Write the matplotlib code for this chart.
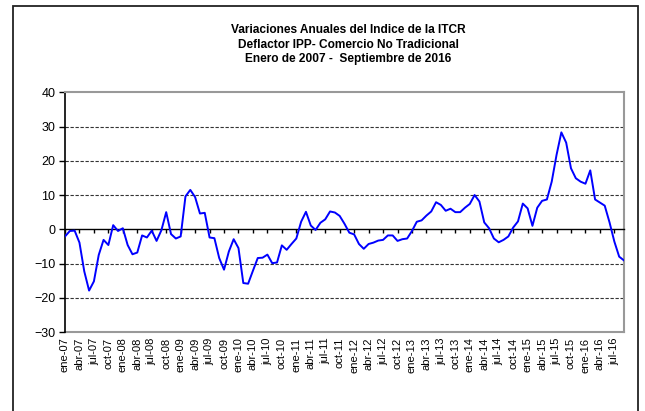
import matplotlib
matplotlib.use('Agg')
import matplotlib.pyplot as plt
from matplotlib.patches import Rectangle

plt.rcParams['font.family'] = ['Liberation Sans', 'DejaVu Sans']

# Monthly categories Jan 2007 - Sep 2016
month_abbr = ['ene', 'feb', 'mar', 'abr', 'may', 'jun',
              'jul', 'ago', 'sep', 'oct', 'nov', 'dic']
years = list(range(7, 17))
months = [f"{m}-{y:02d}" for y in years for m in month_abbr][:117]

# Annual variation (%)
values = [
    -2.1, -0.5, -0.4, -3.9, -12.3, -17.9, -15.2, -7.5, -3.1, -4.6, 1.2, -0.5,
    0.3, -4.6, -7.3, -6.8, -1.8, -2.4, -0.4, -3.4, -0.3, 5.0, -1.4, -2.7,
    -2.1, 9.6, 11.5, 9.4, 4.6, 4.8, -2.4, -2.6, -8.4, -11.8, -6.5, -2.9,
    -5.5, -15.7, -15.9, -12.1, -8.4, -8.3, -7.4, -9.9, -9.7, -4.7, -6.0, -4.3,
    -2.7, 2.2, 5.1, 1.1, -0.2, 1.9, 2.9, 5.2, 4.9, 3.9, 1.6, -1.0,
    -1.5, -4.3, -5.7, -4.3, -3.9, -3.3, -3.1, -1.8, -1.8, -3.4, -2.9, -2.7,
    -0.5, 2.2, 2.6, 4.0, 5.2, 7.9, 7.1, 5.4, 6.0, 5.0, 5.0, 6.3,
    7.4, 10.0, 8.1, 2.0, 0.3, -2.7, -3.8, -3.1, -2.1, 0.5, 2.3, 7.5,
    6.1, 1.0, 6.3, 8.3, 8.7, 13.9, 21.7, 28.3, 25.3, 17.8, 14.9, 13.9,
    13.3, 17.2, 8.7, 7.8, 6.9, 2.0, -3.6, -8.0, -9.1,
]

tick_idx = list(range(0, len(months), 3))
tick_labels = [months[i] for i in tick_idx]
y_ticks = [-30, -20, -10, 0, 10, 20, 30, 40]
grid_levels = [-20, -10, 10, 20, 30]

title = ("Variaciones Anuales del Indice de la ITCR\n"
         "Deflactor IPP- Comercio No Tradicional\n"
         "Enero de 2007 -  Septiembre de 2016")

W, H = 645, 411
fig = plt.figure(figsize=(W / 100, H / 100), dpi=100)

# outer frame
fig.add_artist(Rectangle((12.7 / W, -0.05), (638 - 12.7) / W, 1.05 - 5.7 / H,
                         transform=fig.transFigure, fill=False,
                         edgecolor='#222222', linewidth=1.3))

ax = fig.add_axes([65 / W, 1 - 332 / H, (624 - 65) / W, (332 - 92.3) / H])
x = list(range(len(values)))
ax.plot(x, values, color='#0000FF', linewidth=1.4, zorder=3)
ax.set_xlim(0, len(values) - 1)
ax.set_ylim(-30, 40)

for g in grid_levels:
    ax.axhline(g, color='#333333', linewidth=0.8, linestyle=(0, (3, 1.5)), zorder=1)

ax.spines['bottom'].set_position(('data', 0))
ax.spines['bottom'].set_color('black')
ax.spines['bottom'].set_linewidth(1.0)
ax.spines['left'].set_color('black')
ax.spines['left'].set_linewidth(1.2)
for s in ['top', 'right']:
    ax.spines[s].set_color('#999999')
    ax.spines[s].set_linewidth(1.5)

ax.set_xticks(tick_idx)
ax.tick_params(axis='x', direction='out', length=3, width=1, labelbottom=False)
ax.set_yticks(y_ticks)
ax.tick_params(axis='y', direction='out', length=4, width=1, labelsize=9, pad=3)

sec = ax.secondary_xaxis('bottom')
sec.set_xticks(tick_idx, labels=tick_labels, rotation=90, fontsize=8)
sec.tick_params(length=0, pad=4)
sec.spines['bottom'].set_color('#999999')
sec.spines['bottom'].set_linewidth(1.5)

fig.text(348 / W, 1 - 24 / H, title, ha='center', va='top',
         fontsize=8.6, fontweight='bold', linespacing=1.3)

fig.savefig('out.png', dpi=100)
